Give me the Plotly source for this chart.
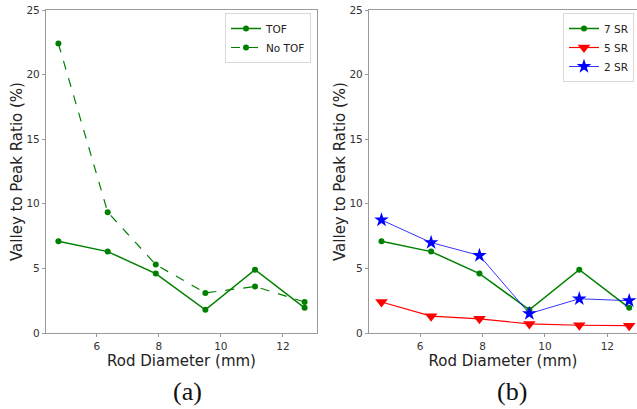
import plotly.graph_objects as go

# Rod diameters (mm) shared by both panels
rod_diameter = [4.76, 6.35, 7.9, 9.5, 11.1, 12.7]

# Panel (a): valley-to-peak ratio with and without TOF
tof = [7.1, 6.3, 4.6, 1.8, 4.9, 1.95]
no_tof = [22.4, 9.35, 5.3, 3.1, 3.6, 2.4]

# Panel (b): valley-to-peak ratio by number of subsets
sr7 = [7.1, 6.3, 4.6, 1.8, 4.9, 1.95]
sr5 = [2.4, 1.3, 1.1, 0.7, 0.6, 0.57]
sr2 = [8.75, 7.0, 6.0, 1.5, 2.65, 2.5]

y_ticks = [0, 5, 10, 15, 20, 25]
x_ticks = [6, 8, 10, 12]

W, H = 637, 409
GREEN, RED, BLUE = "#008000", "#ff0000", "#0000ff"

fig = go.Figure()

fig.add_trace(go.Scatter(x=rod_diameter, y=tof, name="TOF", mode="lines+markers",
                         line=dict(color=GREEN, width=1.5),
                         marker=dict(color=GREEN, size=6, symbol="circle"),
                         xaxis="x", yaxis="y", legend="legend"))
fig.add_trace(go.Scatter(x=rod_diameter, y=no_tof, name="No TOF", mode="lines+markers",
                         line=dict(color=GREEN, width=1.2, dash="dash"),
                         marker=dict(color=GREEN, size=6, symbol="circle"),
                         xaxis="x", yaxis="y", legend="legend"))

fig.add_trace(go.Scatter(x=rod_diameter, y=sr7, name="7 SR", mode="lines+markers",
                         line=dict(color=GREEN, width=1.5),
                         marker=dict(color=GREEN, size=6, symbol="circle"),
                         xaxis="x2", yaxis="y2", legend="legend2"))
fig.add_trace(go.Scatter(x=rod_diameter, y=sr5, name="5 SR", mode="lines+markers",
                         line=dict(color=RED, width=1.2),
                         marker=dict(color=RED, size=11, symbol="triangle-down"),
                         xaxis="x2", yaxis="y2", legend="legend2"))
fig.add_trace(go.Scatter(x=rod_diameter, y=sr2, name="2 SR", mode="lines+markers",
                         line=dict(color=BLUE, width=0.8),
                         marker=dict(color=BLUE, size=11, symbol="star"),
                         xaxis="x2", yaxis="y2", legend="legend2"))

tick_font = dict(family="DejaVu Sans", size=10.5, color="#333333")
title_font = dict(family="DejaVu Sans", size=15, color="#222222")
spine = "#9a9a9a"

def xaxis_cfg(domain, rng, anchor):
    return dict(domain=domain, range=rng, anchor=anchor, tickvals=x_ticks,
                showgrid=False, zeroline=False, showline=True, linecolor=spine,
                linewidth=1.2, mirror=True, ticks="outside", ticklen=3,
                tickcolor=spine, tickfont=tick_font, automargin=False,
                title=dict(text="Rod Diameter (mm)", font=title_font, standoff=2))

def yaxis_cfg(domain, anchor, mirror):
    return dict(domain=domain, range=[0, 25], anchor=anchor, tickvals=y_ticks,
                showgrid=False, zeroline=False, showline=True, linecolor=spine,
                linewidth=1.2, mirror=mirror, ticks="outside", ticklen=3,
                tickcolor=spine, tickfont=tick_font, automargin=False,
                title=dict(text="Valley to Peak Ratio (%)", font=title_font, standoff=0))

y_dom = [(H - 333) / H, (H - 10) / H]

legend_common = dict(bgcolor="rgba(255,255,255,0.9)", bordercolor="#d8d8d8",
                     borderwidth=1, font=dict(family="DejaVu Sans", size=10.5, color="#222222"),
                     itemwidth=30, tracegroupgap=0, xanchor="right", yanchor="top")

caption_font = dict(family="Liberation Serif", size=26, color="#111111")

fig.update_layout(
    width=W, height=H,
    margin=dict(l=0, r=0, t=0, b=0, autoexpand=False),
    paper_bgcolor="white", plot_bgcolor="white",
    xaxis=xaxis_cfg([46 / W, 317 / W], [4.36, 13.1], "y"),
    yaxis=yaxis_cfg(y_dom, "x", True),
    xaxis2=xaxis_cfg([369 / W, 1.0], [4.36, 12.95], "y2"),
    yaxis2=yaxis_cfg(y_dom, "x2", False),
    legend=dict(x=311 / W, y=(H - 13) / H, **legend_common),
    legend2=dict(x=634 / W, y=(H - 13) / H, **legend_common),
    annotations=[
        dict(text="(a)", x=187 / W, y=(H - 391) / H, xref="paper", yref="paper",
             xanchor="center", yanchor="middle", showarrow=False, font=caption_font),
        dict(text="(b)", x=512 / W, y=(H - 391) / H, xref="paper", yref="paper",
             xanchor="center", yanchor="middle", showarrow=False, font=caption_font),
    ],
)

fig.write_html("out.html")
